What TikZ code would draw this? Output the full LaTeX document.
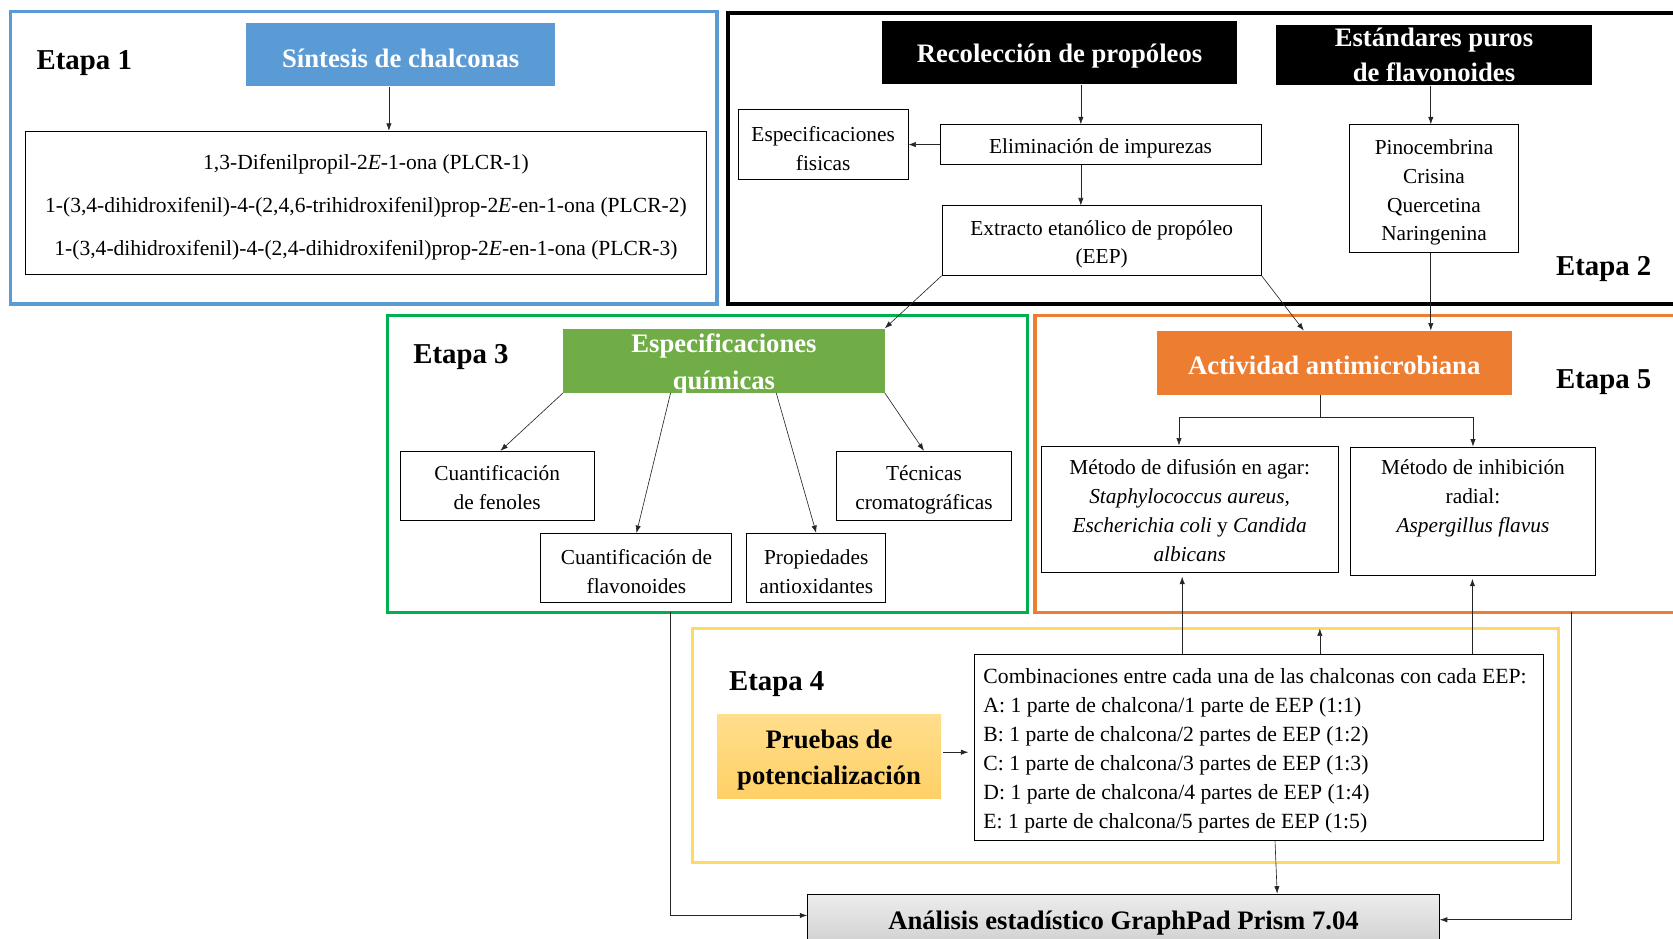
\documentclass[tikz,border=0pt]{standalone}
\usepackage{fontspec}
\setmainfont{Liberation Serif}
\usetikzlibrary{arrows.meta}
\definecolor{cblue}{HTML}{5B9BD5}
\definecolor{cgreenf}{HTML}{00B050}
\definecolor{cgreen}{HTML}{70AD47}
\definecolor{corange}{HTML}{ED7D31}
\definecolor{cyellow}{HTML}{FFD966}
\definecolor{cyeltop}{HTML}{FFDE8C}
\definecolor{cyelbot}{HTML}{FFD066}
\definecolor{cgreytop}{HTML}{EDEDED}
\definecolor{cgreybot}{HTML}{D0D0D0}
\tikzset{
  box/.style={draw=black, line width=0.9pt, inner sep=0pt},
  fbox/.style={inner sep=0pt},
  txt/.style={inner sep=0pt, align=center, font=\fontsize{20}{27}\selectfont},
  htxt/.style={inner sep=0pt, align=center, text=white, font=\fontsize{25}{33}\selectfont\bfseries},
  frame/.style={line width=3pt},
  etapa/.style={inner sep=0pt, font=\fontsize{27}{32}\selectfont\bfseries},
  arr/.style={-{Latex[length=7pt,width=5pt]}, line width=0.6pt, draw=black!85},
  ln/.style={line width=0.6pt, draw=black!85},
}
% #1 box options, #2 text options, #3 name, #4 position, #5 text
\newcommand{\mybox}[5]{%
  \node[#1] (#3) at #4 {};
  \node[#2] (#3-t) at ([yshift=-3.5pt]#3.center) {#5};}
\begin{document}
\begin{tikzpicture}[x=1pt,y=-1pt]
\useasboundingbox (0,0) rectangle (1568,880);
\clip (0,0) rectangle (1568,880);
% frames
\draw[frame, draw=cblue] (10,11) rectangle (672,285);
\draw[line width=4pt, draw=black] (682,12) rectangle (1590,285);
\draw[frame, draw=cgreenf] (363,296) rectangle (963,574);
\draw[frame, draw=corange] (970,296) rectangle (1590,574);
\draw[frame, draw=cyellow] (649,589) rectangle (1461,808);
% labels
\node[etapa] (e1) at (79,59) {Etapa 1};
\node[etapa] (e2) at (1503,252) {Etapa 2};
\node[etapa] (e3) at (432,335) {Etapa 3};
\node[etapa] (e4) at (728,641) {Etapa 4};
\node[etapa] (e5) at (1503,358) {Etapa 5};
% Etapa 1
\mybox{fbox, fill=cblue, minimum width=289pt, minimum height=59pt}{htxt}{s1}{(375.5,51.5)}{Síntesis de chalconas}
\mybox{box, minimum width=638pt, minimum height=134pt}{txt, font=\fontsize{20.2}{40.5}\selectfont, yshift=-0.5pt}{chal}{(343,190)}
  {1,3-Difenilpropil-2\textit{E}-1-ona (PLCR-1)\\
   1-(3,4-dihidroxifenil)-4-(2,4,6-trihidroxifenil)prop-2\textit{E}-en-1-ona (PLCR-2)\\
   1-(3,4-dihidroxifenil)-4-(2,4-dihidroxifenil)prop-2\textit{E}-en-1-ona (PLCR-3)}
% Etapa 2
\mybox{fbox, fill=black, minimum width=332pt, minimum height=59pt}{htxt}{rec}{(993,49.5)}{Recolección de propóleos}
\mybox{fbox, fill=black, minimum width=296pt, minimum height=57pt}{htxt, yshift=3.5pt}{est}{(1344,51.5)}{Estándares puros\\de flavonoides}
\mybox{box, minimum width=301pt, minimum height=37pt}{txt}{elim}{(1031.5,135.5)}{Eliminación de impurezas}
\mybox{box, minimum width=159pt, minimum height=65pt}{txt}{espf}{(771.5,135.5)}{Especificaciones\\fisicas}
\mybox{box, minimum width=299pt, minimum height=65pt}{txt}{eep}{(1032.5,225.5)}{Extracto etanólico de propóleo\\(EEP)}
\mybox{box, minimum width=158pt, minimum height=120pt}{txt}{pino}{(1344,177)}{Pinocembrina\\Crisina\\Quercetina\\Naringenina}
% Etapa 3
\mybox{fbox, fill=cgreen, minimum width=301pt, minimum height=60pt}{htxt, font=\fontsize{25}{34}\selectfont\bfseries}{esq}{(678.5,338)}{Especificaciones\\químicas}
\mybox{box, minimum width=182pt, minimum height=65pt}{txt, yshift=2pt}{cfen}{(466,455.5)}{Cuantificación\\de fenoles}
\mybox{box, minimum width=164pt, minimum height=65pt}{txt}{tec}{(866,455.5)}{Técnicas\\cromatográficas}
\mybox{box, minimum width=179pt, minimum height=65pt}{txt}{cflav}{(596.5,532.5)}{Cuantificación de\\flavonoides}
\mybox{box, minimum width=130pt, minimum height=65pt}{txt}{prop}{(765,532.5)}{Propiedades\\antioxidantes}
% Etapa 5
\mybox{fbox, fill=corange, minimum width=333pt, minimum height=60pt}{htxt, yshift=1.5pt}{act}{(1250.5,340)}{Actividad antimicrobiana}
\mybox{box, minimum width=278pt, minimum height=119pt}{txt, yshift=2.5pt}{mdif}{(1115,477.5)}{Método de difusión en agar:\\\textit{Staphylococcus aureus,}\\\textit{Escherichia coli} y \textit{Candida}\\\textit{albicans}}
\mybox{box, minimum width=229pt, minimum height=120pt}{txt}{minh}{(1380.5,479)}{Método de inhibición\\radial:\\\textit{Aspergillus flavus}\\\strut}
% Etapa 4
\mybox{fbox, top color=cyeltop, bottom color=cyelbot, minimum width=210pt, minimum height=78pt}{htxt, text=black, font=\fontsize{25}{34}\selectfont\bfseries}{pru}{(777,709)}{Pruebas de\\potencialización}
\node[box, minimum width=534pt, minimum height=175pt] (comb) at (1180,700.5) {};
\node[txt, align=left, anchor=west, font=\fontsize{20.3}{27.2}\selectfont] (comb-t) at ([xshift=9pt,yshift=-3.5pt]comb.west)
  {Combinaciones entre cada una de las chalconas con cada EEP:\\
   A: 1 parte de chalcona/1 parte de EEP (1:1)\\
   B: 1 parte de chalcona/2 partes de EEP (1:2)\\
   C: 1 parte de chalcona/3 partes de EEP (1:3)\\
   D: 1 parte de chalcona/4 partes de EEP (1:4)\\
   E: 1 parte de chalcona/5 partes de EEP (1:5)};
% Analisis
\mybox{box, top color=cgreytop, bottom color=cgreybot, minimum width=592pt, minimum height=48pt}{htxt, text=black, font=\fontsize{25}{30}\selectfont\bfseries}{ana}{(1053,862)}{Análisis estadístico GraphPad Prism 7.04}
% coordinates on frames
\coordinate (g3) at (628,574);
\coordinate (o5) at (1473,574);
\coordinate (y4) at (1237,589);
% connectors
\draw[arr] ([xshift=-11pt]s1.south) -- ([xshift=-11pt]s1.south |- chal.north);
\draw[arr] ([xshift=20pt]rec.south) -- ([xshift=20pt]rec.south |- elim.north);
\draw[arr] (elim.west) -- (espf.east);
\draw[arr] ([xshift=-18.5pt]elim.south) -- ([xshift=-18.5pt]elim.south |- eep.north);
\draw[arr] ([xshift=-3pt]est.south) -- ([xshift=-3pt]pino.north);
\draw[arr] ([xshift=-3pt]pino.south) -- ([xshift=-3pt]pino.south |- act.north);
\draw[arr] (eep.south west) -- (esq.north east);
\draw[arr] (eep.south east) -- ([xshift=-28.5pt]act.north);
\draw[arr] (esq.south west) -- ([xshift=3pt]cfen.north);
\draw[arr] ([xshift=-50pt]esq.south) -- (cflav.north);
\draw[arr] ([xshift=49pt]esq.south) -- (prop.north);
\draw[arr] (esq.south east) -- (tec.north);
\coordinate (split) at ([xshift=-13.5pt,yshift=-21pt]act.south);
\draw[ln] ([xshift=-13.5pt]act.south) -- (split);
\draw[arr] (split) -| ([xshift=-10pt]mdif.north);
\draw[arr] (split) -| (minh.north);
\draw[arr, shorten <=2pt] ([yshift=4pt]pru.east) -- ([yshift=4pt,xshift=-5pt]pru.east -| comb.west);
\draw[arr, shorten >=3pt] ([xshift=-72pt]comb.north) -- ([xshift=-72pt]comb.north |- mdif.south);
\draw[arr, shorten >=3pt] ([xshift=200pt]comb.north) -- ([xshift=200pt]comb.north |- minh.south);
\draw[arr] ([xshift=57pt]comb.north) -- (y4);
\draw[arr] ([xshift=15pt]comb.south) -- ([xshift=144pt]ana.north);
\draw[arr] (g3) |- ([yshift=4pt]ana.west);
\draw[arr] (o5) |- (ana.east);
\end{tikzpicture}
\end{document}
